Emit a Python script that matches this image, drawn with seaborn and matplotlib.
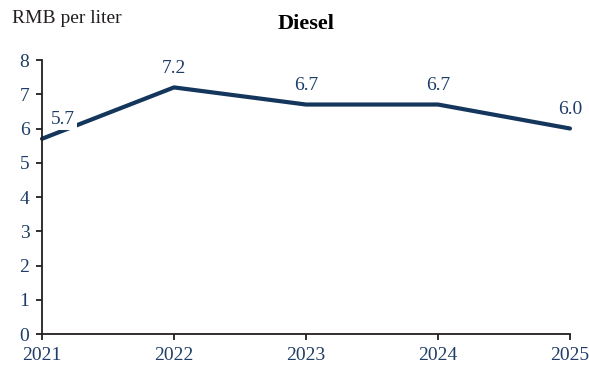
import matplotlib
matplotlib.use("Agg")
import matplotlib.pyplot as plt
import seaborn as sns
import pandas as pd

years = [2021, 2022, 2023, 2024, 2025]
price = [5.7, 7.2, 6.7, 6.7, 6.0]
yticks = [0, 1, 2, 3, 4, 5, 6, 7, 8]

sns.set_theme(style="white")
plt.rcParams["font.family"] = ["Liberation Serif", "DejaVu Serif"]

line_color = "#14365C"
text_color = "#1F3D66"
axis_color = "#231F20"

df = pd.DataFrame({"year": years, "price": price})

fig = plt.figure(figsize=(5.89, 3.67), dpi=100)
ax = fig.add_axes([0.0713, 0.0899, 0.8964, 0.7466])

sns.lineplot(data=df, x="year", y="price", ax=ax, color=line_color,
             linewidth=3.0, clip_on=False)

ax.set_xlim(years[0], years[-1])
ax.set_ylim(0, 8)
ax.set_xticks(years)
ax.set_xticklabels([str(y) for y in years])
ax.set_yticks(yticks)
ax.set_xlabel("")
ax.set_ylabel("")

for s in ["top", "right"]:
    ax.spines[s].set_visible(False)
for s in ["left", "bottom"]:
    ax.spines[s].set_color(axis_color)
    ax.spines[s].set_linewidth(1.3)

ax.tick_params(axis="both", which="major", direction="out", length=4,
               width=1.3, color=axis_color, labelcolor=text_color,
               labelsize=14, pad=5, left=True, bottom=True)

for i, (x, y) in enumerate(zip(years, price)):
    if i == 0:
        ax.annotate(f"{y:.1f}", (x, y), xytext=(15, 14), textcoords="offset points",
                    ha="center", va="center", fontsize=14, color=text_color,
                    bbox=dict(boxstyle="square,pad=0.1", fc="white", ec="none"))
    else:
        ax.annotate(f"{y:.1f}", (x, y), xytext=(0, 13.5), textcoords="offset points",
                    ha="center", va="center", fontsize=14, color=text_color)

fig.text(0.52, 0.935, "Diesel", ha="center", va="center", fontsize=16,
         fontweight="bold", color="#000000")
fig.text(0.02, 0.95, "RMB per liter", ha="left", va="center", fontsize=14,
         color="#231F20")

fig.savefig("out.png", dpi=100)
